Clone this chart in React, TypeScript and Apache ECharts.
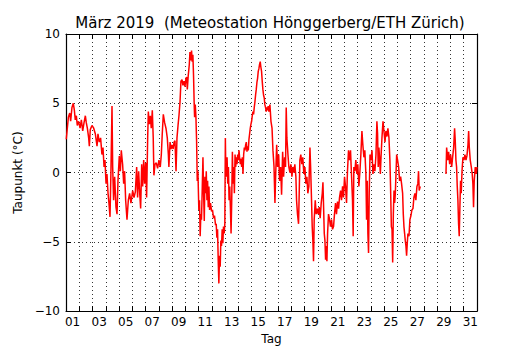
import React, { useEffect, useRef } from "react";
import * as echarts from "echarts";

const titleText = "März 2019  (Meteostation Hönggerberg/ETH Zürich)";
const xAxisName = "Tag";
const yAxisName = "Taupunkt (°C)";

const dayLabels = [
  "01", "02", "03", "04", "05", "06", "07", "08", "09", "10",
  "11", "12", "13", "14", "15", "16", "17", "18", "19", "20",
  "21", "22", "23", "24", "25", "26", "27", "28", "29", "30", "31",
];

const yTicks = [-10, -5, 0, 5, 10];

// time in days since 1 March 00:00
const days = [
  0.02, 0.1, 0.18, 0.28, 0.35, 0.45, 0.55, 0.63, 0.7, 0.78, 0.85, 0.95,
  1.06, 1.16, 1.26, 1.36, 1.46, 1.53, 1.61, 1.71, 1.76, 1.83, 1.96,
  2.09, 2.21, 2.34, 2.41, 2.51, 2.61, 2.71, 2.79, 2.87, 2.94,
  3.02, 3.09, 3.17, 3.24, 3.32, 3.39, 3.47, 3.52, 3.59, 3.67, 3.77, 3.85, 3.92,
  4.02, 4.1, 4.17, 4.27, 4.35, 4.42, 4.5, 4.6, 4.7, 4.8, 4.9,
  5.03, 5.13, 5.23, 5.33, 5.4, 5.48, 5.56, 5.63, 5.71, 5.78, 5.86, 5.93,
  6.01, 6.08, 6.16, 6.21, 6.28, 6.36, 6.43, 6.51, 6.58, 6.63, 6.71, 6.81, 6.91,
  7.01, 7.11, 7.19, 7.26, 7.34, 7.44, 7.54, 7.64, 7.72, 7.76, 7.85, 7.92,
  8.0, 8.08, 8.15, 8.22, 8.3, 8.37, 8.45, 8.52, 8.6, 8.67, 8.75, 8.82, 8.9, 8.97,
  9.05, 9.1, 9.15, 9.22, 9.3, 9.35, 9.42, 9.47, 9.52, 9.57, 9.62, 9.67, 9.7, 9.75, 9.8, 9.85, 9.9, 9.95,
  10.02, 10.07, 10.12, 10.17, 10.22, 10.28, 10.33, 10.38, 10.43, 10.48, 10.53, 10.58, 10.63, 10.68, 10.73, 10.78, 10.83, 10.9, 10.98,
  11.05, 11.13, 11.2, 11.28, 11.33, 11.38, 11.43, 11.48, 11.53, 11.58, 11.63, 11.68, 11.73, 11.78, 11.83, 11.88, 11.93, 11.98,
  12.02, 12.05, 12.1, 12.15, 12.2, 12.25, 12.3, 12.35, 12.4, 12.45, 12.5, 12.55, 12.6, 12.65, 12.7, 12.75, 12.8, 12.85, 12.9, 12.95,
  13.0, 13.05, 13.1, 13.15, 13.2, 13.25, 13.3, 13.35, 13.4, 13.45, 13.5, 13.55, 13.6, 13.65, 13.7, 13.75, 13.8, 13.85, 13.9, 13.95,
  14.0, 14.05, 14.1, 14.15, 14.2, 14.25, 14.3, 14.35, 14.4, 14.45, 14.5, 14.55, 14.6, 14.65, 14.7, 14.75, 14.8, 14.85, 14.9, 14.95,
  15.0, 15.05, 15.1, 15.15, 15.2, 15.25, 15.3, 15.38, 15.46, 15.54, 15.61, 15.69, 15.76, 15.81, 15.89, 15.96,
  16.04, 16.11, 16.19, 16.26, 16.34, 16.41, 16.49, 16.56, 16.61, 16.66, 16.74, 16.81, 16.89, 16.96,
  17.04, 17.11, 17.19, 17.26, 17.34, 17.39, 17.46, 17.54, 17.59, 17.64, 17.71, 17.79, 17.86, 17.94,
  18.02, 18.09, 18.17, 18.24, 18.32, 18.4, 18.45, 18.52, 18.57, 18.62, 18.67, 18.72, 18.8, 18.87, 18.95,
  19.02, 19.1, 19.17, 19.25, 19.33, 19.38, 19.43, 19.48, 19.53, 19.58, 19.63, 19.68, 19.73, 19.8, 19.88, 19.95,
  20.03, 20.1, 20.18, 20.25, 20.33, 20.4, 20.48, 20.56, 20.63, 20.71, 20.78, 20.86, 20.93,
  21.01, 21.08, 21.16, 21.23, 21.31, 21.39, 21.46, 21.54, 21.61, 21.66, 21.71, 21.79, 21.86, 21.94,
  22.01, 22.09, 22.17, 22.24, 22.32, 22.39, 22.47, 22.54, 22.62, 22.67, 22.72, 22.77, 22.82, 22.87, 22.93,
  23.0, 23.08, 23.15, 23.23, 23.3, 23.38, 23.45, 23.5, 23.55, 23.6, 23.66, 23.71, 23.76, 23.83, 23.91, 23.98,
  24.06, 24.13, 24.21, 24.28, 24.36, 24.43, 24.48, 24.54, 24.59, 24.64, 24.69, 24.74, 24.79, 24.84, 24.89, 24.94,
  25.01, 25.09, 25.16, 25.24, 25.31, 25.39, 25.44, 25.49, 25.54, 25.59, 25.64, 25.69, 25.74, 25.79, 25.87, 25.94,
  26.02, 26.09, 26.17, 26.24, 26.32, 26.39, 26.47, 26.54, 26.59, 26.64, 26.72,
  27.7,
  28.66, 28.71, 28.79, 28.86, 28.94, 29.01, 29.09, 29.16, 29.24, 29.31, 29.36, 29.41, 29.46, 29.51, 29.56, 29.61, 29.66, 29.71, 29.76, 29.81, 29.87, 29.94,
  30.02, 30.09, 30.17, 30.24, 30.32, 30.37, 30.42, 30.49, 30.57, 30.64, 30.69, 30.74, 30.79, 30.87, 30.94, 31.0,
];

const dewPoint: (number | null)[] = [
  2.4, 3.2, 4.0, 4.3, 3.7, 4.7, 5.0, 4.5, 3.8, 4.1, 3.4, 3.7,
  3.2, 3.8, 3.0, 3.6, 4.1, 3.6, 3.2, 2.5, 1.9, 3.1, 3.4,
  3.2, 2.8, 1.9, 2.8, 2.2, 2.5, 1.3, 1.8, 0.4, 0.9,
  -0.8, -0.1, -1.5, -2.2, -3.2, 0.1, 4.8, 0.4, -2.0, -0.3, -2.5, -3.0, -0.6,
  1.2, 0.1, 1.6, 0.6, -0.8, 0.1, -2.0, -3.4, -2.0, -1.5, -2.2,
  -1.3, -1.8, -1.4, 0.4, -1.8, 0.1, -1.5, -2.6, 0.6, -1.0, 0.9, -0.8,
  0.7, -1.8, 2.5, 4.4, 3.5, 4.1, 3.2, 4.5, 2.5, -0.2, 0.6, 0.7, 0.3,
  0.9, 0.4, 1.3, 2.8, 4.2, 3.6, 3.2, 2.5, 1.3, 0.4, 2.2, 1.7,
  2.0, 1.7, 2.2, 2.3, 0.1, 2.5, 3.4, 4.1, 5.1, 6.6, 6.7, 6.3, 6.6, 6.2,
  6.8, 6.9, 6.0, 7.0, 7.8, 8.7, 8.1, 8.8, 8.0, 8.5, 7.0, 4.9, 4.0, 4.9, 4.0, 2.3, -0.6, 0.1,
  -2.7, -2.0, -4.6, -3.0, -3.4, -1.0, 1.1, -1.5, -3.5, -0.3, -1.5, 0.1, -2.0, -0.6, -2.5, -1.0, -2.7, -2.2, -2.8,
  -2.7, -3.3, -3.1, -3.8, -3.7, -4.7, -4.1, -6.3, -8.0, -6.0, -6.8, -4.9, -5.3, -4.1, -5.1, -3.9, -4.4, -3.7,
  2.5, 0.4, -0.3, 1.1, -0.8, 0.4, -2.0, -1.0, -2.5, -4.4, -2.0, 1.5, -0.8, 0.4, -1.5, 1.3, 0.4, 1.1, 0.6, 1.3,
  0.9, 1.6, 1.0, 0.6, 1.0, 0.4, 1.1, -0.1, 1.3, 1.8, 1.6, 2.0, 2.2, 1.5, 1.9, 1.6, 2.4, 2.8, 3.2, 3.5,
  3.7, 4.1, 4.4, 4.2, 4.7, 5.1, 5.6, 6.0, 6.5, 6.8, 7.3, 7.5, 7.8, 8.0, 7.6, 7.3, 6.6, 6.0, 5.6, 5.4,
  4.9, 4.7, 4.4, 4.7, 4.5, 4.8, 4.4, 4.9, 3.7, 3.2, 1.6, 0.4, -2.2, -0.3, 2.0, 0.4,
  1.3, -0.6, 0.4, -1.6, 1.5, -0.3, 1.1, 0.4, 4.7, 2.5, 1.3, 0.4, 0.0, 0.6,
  -0.3, 0.4, 0.0, 0.6, -0.3, -2.0, -3.0, -3.7, -1.5, 0.9, 1.3, 0.6, 1.1, -0.1,
  0.4, -0.8, -0.3, -1.5, -1.0, 1.8, 0.4, -2.0, -3.9, -4.9, -6.4, -3.4, -2.0, -3.0, -2.6,
  -3.0, -2.5, -3.3, -2.2, -1.5, -0.7, -2.5, -4.4, -4.9, -6.3, -5.3, -6.4, -4.4, -3.0, -3.4, -3.9,
  -3.4, -4.1, -3.9, -3.0, -2.2, -3.0, -2.1, -2.6, -1.8, -1.3, -2.0, -1.0, -1.8,
  -0.3, -1.0, -2.2, 0.1, 1.6, 0.9, 1.6, -0.3, -2.0, -4.6, 0.4, 0.1, 0.9, -0.1,
  0.6, -1.0, 0.1, 1.3, 3.0, 2.0, 1.1, 1.6, -0.1, -3.4, -0.6, -4.4, -5.8, -1.5, 1.3,
  0.9, 1.6, -0.1, 0.6, 0.1, 1.3, 3.7, 2.8, 0.4, 1.8, 0.9, -0.1, 1.1, 2.5, 3.7, 3.0,
  2.2, 3.0, 2.6, 3.2, 2.5, 0.9, -1.0, -3.9, -4.1, -6.5, -3.0, -1.3, -2.2, -1.5, -0.1, 1.3,
  0.9, 0.4, -0.6, -0.3, -0.8, -1.5, -3.0, -3.9, -4.4, -4.9, -5.3, -6.0, -5.1, -4.4, -4.6, -3.4,
  -3.1, -2.7, -2.6, -1.8, -1.5, -2.0, -1.0, -0.8, 0.1, -1.3, -1.0,
  null,
  -0.1, 1.8, 0.9, 1.5, 0.6, 1.3, 0.4, 1.1, 1.8, 3.2, 2.3, 0.9, 0.4, -1.0, -2.0, -3.7, -4.6, -2.5, -0.6, -1.5, 0.1, 1.1,
  0.9, 1.3, 0.9, 1.2, 2.0, 3.0, 1.8, 0.9, 0.4, -0.1, -0.8, -2.5, -0.6, 0.4, -0.1, 0.4,
];

const FONT = "'DejaVu Sans', sans-serif";

export default function App() {
  const ref = useRef<HTMLDivElement>(null);

  useEffect(() => {
    if (!ref.current) return;
    const chart = echarts.init(ref.current, undefined, { renderer: "svg" });
    const seriesData = days.map((d, i) => [d, dewPoint[i] === null ? "-" : dewPoint[i]]);

    const tickStyle = { show: true, inside: true, length: 5, lineStyle: { color: "#000", width: 1 } };
    const lineStyle = { show: true, onZero: false, lineStyle: { color: "#000", width: 1.2 } };
    const gridDots = { show: true, lineStyle: { color: "#000", width: 0.8, type: [1, 3] as any } };

    chart.setOption({
      animation: false,
      backgroundColor: "#fff",
      textStyle: { fontFamily: FONT },
      grid: { left: 66, right: 53, top: 34, bottom: 35, containLabel: false },
      graphic: [
        {
          type: "text",
          x: 270,
          y: 23,
          style: {
            text: titleText,
            font: `15px ${FONT}`,
            fill: "#000",
            align: "center",
            verticalAlign: "middle",
          },
        },
      ],
      xAxis: [
        {
          type: "value",
          min: 0,
          max: 31,
          interval: 1,
          position: "bottom",
          axisLine: lineStyle,
          axisTick: tickStyle,
          axisLabel: { show: false },
          splitLine: gridDots,
        },
        {
          type: "value",
          min: 0,
          max: 31,
          interval: 1,
          position: "top",
          axisLine: lineStyle,
          axisTick: tickStyle,
          axisLabel: { show: false },
          splitLine: { show: false },
        },
        {
          type: "category",
          data: dayLabels,
          boundaryGap: true,
          position: "bottom",
          axisLine: { show: false },
          axisTick: { show: false },
          splitLine: { show: false },
          axisLabel: { interval: 1, color: "#000", fontSize: 12, fontFamily: FONT, margin: 5 },
          name: xAxisName,
          nameLocation: "middle",
          nameGap: 21,
          nameTextStyle: { color: "#000", fontSize: 12, fontFamily: FONT },
        },
      ],
      yAxis: [
        {
          type: "value",
          min: -10,
          max: 10,
          interval: 5,
          position: "left",
          axisLine: lineStyle,
          axisTick: tickStyle,
          splitLine: gridDots,
          axisLabel: {
            color: "#000",
            fontSize: 12,
            fontFamily: FONT,
            margin: 6,
            formatter: (v: number) => (yTicks.includes(v) ? String(v).replace("-", "\u2212") : ""),
          },
          name: yAxisName,
          nameLocation: "middle",
          nameGap: 38,
          nameTextStyle: { color: "#000", fontSize: 12, fontFamily: FONT },
        },
        {
          type: "value",
          min: -10,
          max: 10,
          interval: 5,
          position: "right",
          axisLine: lineStyle,
          axisTick: tickStyle,
          axisLabel: { show: false },
          splitLine: { show: false },
        },
      ],
      series: [
        {
          type: "line",
          xAxisIndex: 0,
          yAxisIndex: 0,
          data: seriesData,
          showSymbol: false,
          connectNulls: false,
          lineStyle: { color: "#ff0000", width: 1.5 },
          itemStyle: { color: "#ff0000" },
          z: 1,
        },
      ],
    });

    return () => chart.dispose();
  }, []);

  return <div ref={ref} style={{ width: 530, height: 350, position: "absolute", left: 0, top: 0 }} />;
}
